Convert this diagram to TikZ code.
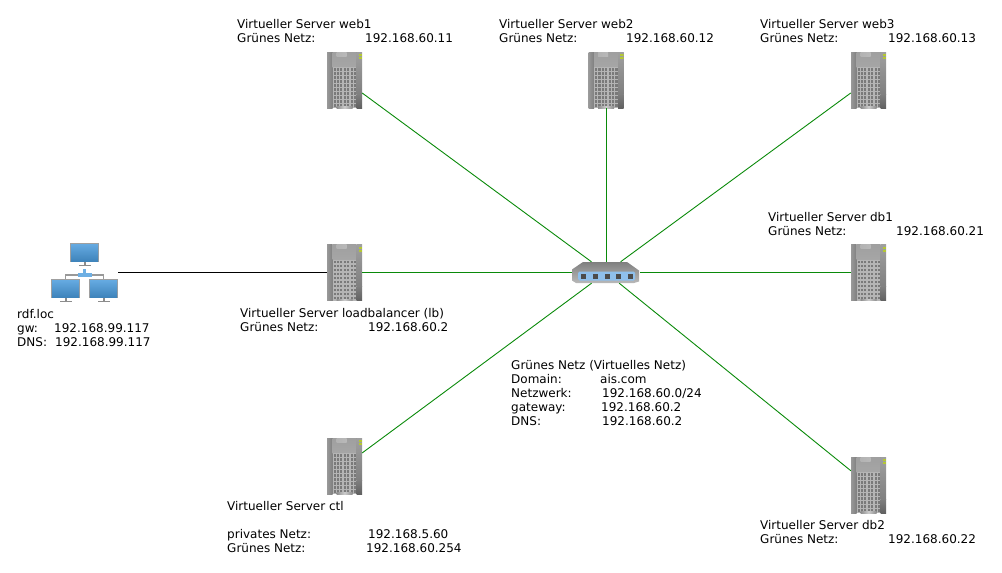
\documentclass[tikz,border=0pt]{standalone}
\usepackage{fontspec}
\setmainfont{DejaVu Sans}
\newcommand{\tabline}[3]{\makebox[#1pt][l]{#2}#3}
\definecolor{netgreen}{HTML}{0A8A0A}
\definecolor{screen}{HTML}{4A9BDC}
\definecolor{panel}{HTML}{8FC0EC}
\definecolor{led}{HTML}{B4C832}
\begin{document}
\begin{tikzpicture}[x=1pt, y=-1pt,
	lbl/.style={anchor=north west, inner sep=0, align=left, font=\fontsize{12}{14}\selectfont},
	link/.style={draw=netgreen, line width=0.9pt},
	serverbox/.style={inner sep=0, minimum width=35pt, minimum height=56pt, path picture={
		\begin{scope}[shift={(path picture bounding box.center)}]
			\fill[gray!90] (-17.5,-28) rectangle (17.5,28);
			\shade[left color=gray!80, right color=gray!100] (-17.5,-28) rectangle (-12,28);
			\shade[top color=gray!75, bottom color=gray!70] (-12,-28) rectangle (12,-13);
			\fill[gray!58] (-12,-13) rectangle (12,28);
			\shade[top color=gray!75, bottom color=gray!100] (12,-28) rectangle (17.5,14);
			\shade[top color=gray!100, bottom color=black!62] (12,14) rectangle (17.5,28);
			\shade[left color=gray!60, right color=gray!55] (-8,-28) rectangle (2,-24);
			\fill[led] (14,-26) rectangle (17.5,-24);
			\fill[led] (14,-23) rectangle (17.5,-21);
			\foreach \col in {-11,-7.6,...,11} \foreach \row in {-12,-8,...,26}
				\fill[black!52] (\col,\row) rectangle ++(2.1,2.6);
			\shade[left color=gray!90, right color=gray!90, middle color=gray!40] (-8,26.5) rectangle (8,28);
		\end{scope}}},
	switchbox/.style={inner sep=0, minimum width=68pt, minimum height=21pt, path picture={
		\begin{scope}[shift={(path picture bounding box.center)}]
			\shade[top color=gray!100, bottom color=gray!55] (-23,-10.5) -- (21,-10.5) -- (33,-2) -- (33,9) -- (28,10.5) -- (-30,10.5) -- (-34,8) -- (-34,-3) -- cycle;
			\fill[panel, rounded corners=1.5pt] (-28,-1) rectangle (29,8);
			\foreach \col in {-23,-11,1,12,24}
				\fill[black!70] (\col-2.5,1.2) rectangle ++(5,5);
		\end{scope}}},
	monitor/.pic={
		\fill[gray!75] (-14.5,-9.5) rectangle (14.5,9.5);
		\shade[top color=screen!85!white, bottom color=screen!85!black] (-13.5,-8.5) rectangle (13.5,8.5);
		\fill[gray!90] (-1,9.5) rectangle (1,12);
		\fill[gray!90] (-6,12) rectangle (6,13.5);},
	netbox/.style={inner sep=0, minimum width=67pt, minimum height=60pt, path picture={
		\begin{scope}[shift={(path picture bounding box.center)}]
			\draw[gray!80, line width=1.2pt] (-19,6.5) |- (19,2.5) -- (19,6.5);
			\path (0,-20) pic {monitor} (-19,16) pic {monitor} (19,16) pic {monitor};
			\fill[screen!80!white] (-7,0.5) rectangle (7,4);
			\fill[screen!80!white] (-1.5,-4) rectangle (1.5,1);
		\end{scope}}}]
	\useasboundingbox (0,0) rectangle (1002,573);

	\node[switchbox] (switch) at (606,272.5) {};
	\node[netbox] (rdf) at (84.5,272.5) {};
	\foreach \name/\xpos/\ypos in {web1/344.5/80, web2/606/80, web3/868.5/80, db1/868.5/272.5, lb/344.5/272.5, ctl/344.5/466, db2/868.5/485}
		\node[serverbox] (\name) at (\xpos,\ypos) {};

	\foreach \name in {web1,web2,web3,db1,lb,ctl,db2}
		\draw[link] (\name) -- (switch);
	\draw[line width=0.9pt] (rdf) -- (lb);

	\node[lbl] (lblweb1) at (237,19.5) {Virtueller Server web1\\\tabline{128}{Grünes Netz:}{192.168.60.11}};
	\node[lbl] (lblweb2) at (499,19.5) {Virtueller Server web2\\\tabline{127}{Grünes Netz:}{192.168.60.12}};
	\node[lbl] (lblweb3) at (760,19.5) {Virtueller Server web3\\\tabline{128}{Grünes Netz:}{192.168.60.13}};
	\node[lbl] (lbldb1) at (768,212.5) {Virtueller Server db1\\\tabline{128}{Grünes Netz:}{192.168.60.21}};
	\node[lbl] (lbllb) at (240,308.5) {Virtueller Server loadbalancer (lb)\\\tabline{128}{Grünes Netz:}{192.168.60.2}};
	\node[lbl] (lblctl) at (227,501.5) {Virtueller Server ctl\\[14pt]\tabline{141}{privates Netz:}{192.168.5.60}\\\tabline{139}{Grünes Netz:}{192.168.60.254}};
	\node[lbl] (lbldb2) at (760,520.5) {Virtueller Server db2\\\tabline{128}{Grünes Netz:}{192.168.60.22}};
	\node[lbl] (lblrdf) at (17,309.5) {rdf.loc\\\tabline{37}{gw:}{192.168.99.117}\\\tabline{38}{DNS:}{192.168.99.117}};
	\node[lbl] (lblnet) at (511,360.5) {Grünes Netz (Virtuelles Netz)\\\tabline{89}{Domain:}{ais.com}\\\tabline{91}{Netzwerk:}{192.168.60.0/24}\\\tabline{90}{gateway:}{192.168.60.2}\\\tabline{91}{DNS:}{192.168.60.2}};
\end{tikzpicture}
\end{document}
